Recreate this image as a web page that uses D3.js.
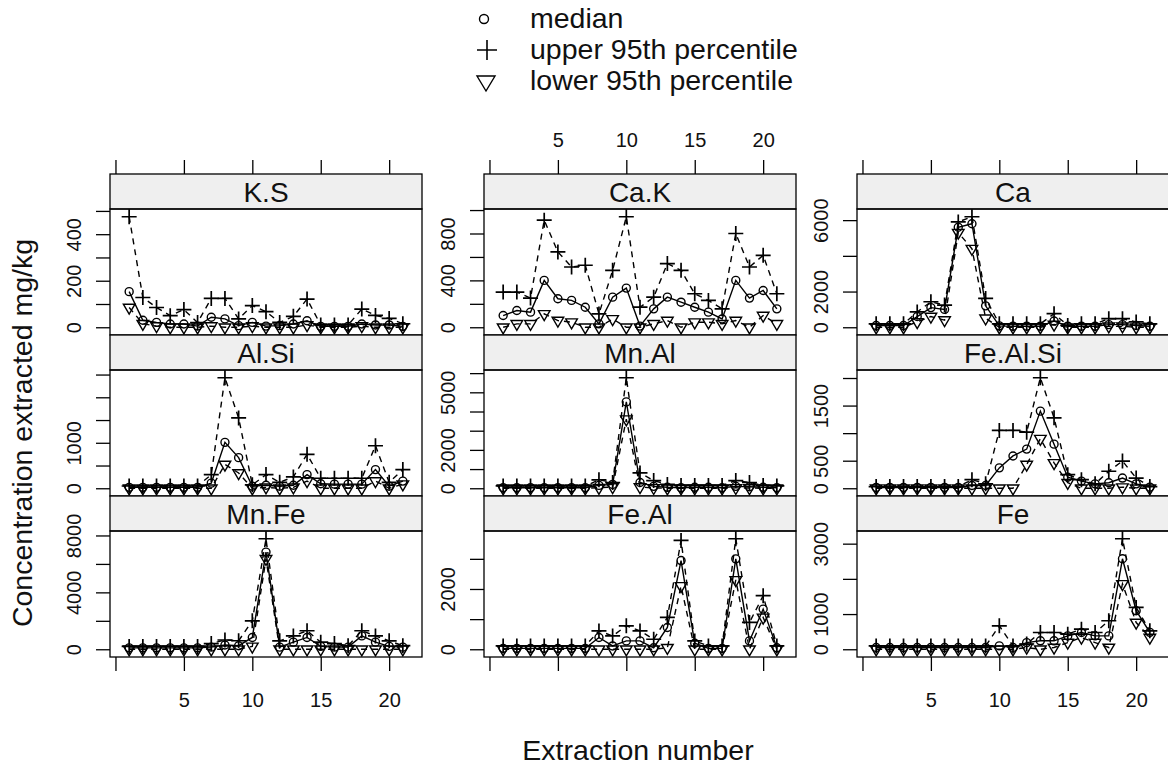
<!DOCTYPE html>
<html>
<head>
<meta charset="utf-8">
<script src="https://cdn.jsdelivr.net/npm/d3@7"></script>
<style>
  body { margin: 0; background: #fff; }
  svg { display: block; font-family: "Liberation Sans", Arial, sans-serif; }
</style>
</head>
<body>
<svg id="chart" width="1168" height="765"></svg>
<script>
// extraction steps on the x axis
const extraction = [1, 2, 3, 4, 5, 6, 7, 8, 9, 10, 11, 12, 13, 14, 15, 16, 17, 18, 19, 20, 21];
const xTicks = [0, 5, 10, 15, 20];

const panelNames = ["K.S", "Ca.K", "Ca", "Al.Si", "Mn.Al", "Fe.Al.Si", "Mn.Fe", "Fe.Al", "Fe"];

// values per panel (mg/kg)
const upperKS  = [475, 128, 85, 50, 76, 20, 124, 124, 36, 93, 67, 21, 47, 121, 10, 10, 10, 78, 51, 38, 15];
const medianKS = [153, 30, 21, 14, 14, 5, 43, 36, 7, 21, 5, 7, 14, 28, 4, 4, 4, 14, 10, 10, 4];
const lowerKS  = [85, 15, 5, 0, 0, 0, 5, 0, 0, 5, 0, 0, 0, 10, 0, 0, 0, 5, 0, 0, 0];

const upperCaK  = [300, 300, 249, 914, 643, 514, 529, 114, 486, 943, 171, 257, 543, 486, 286, 229, 157, 800, 514, 614, 286];
const medianCaK = [100, 143, 129, 400, 243, 229, 171, 29, 257, 334, 10, 157, 257, 214, 171, 129, 71, 400, 249, 314, 157];
const lowerCaK  = [0, 29, 29, 114, 57, 43, 0, 0, 71, 0, 0, 29, 57, 0, 43, 43, 29, 57, 0, 100, 29];

const upperCa  = [190, 190, 190, 857, 1429, 1240, 5900, 6190, 1617, 190, 190, 190, 190, 762, 100, 190, 190, 480, 480, 300, 190];
const medianCa = [100, 100, 100, 600, 1100, 1000, 5600, 5800, 1200, 80, 60, 60, 60, 350, 60, 60, 60, 150, 150, 100, 60];
const lowerCa  = [0, 0, 0, 300, 600, 400, 5300, 4400, 500, 0, 0, 0, 0, 150, 0, 0, 0, 50, 50, 0, 0];

const upperAlSi  = [50, 50, 50, 50, 50, 50, 300, 2430, 1547, 75, 300, 130, 250, 747, 220, 220, 220, 220, 935, 130, 410];
const medianAlSi = [20, 20, 20, 20, 20, 20, 112, 1009, 673, 45, 67, 45, 67, 300, 100, 90, 90, 90, 410, 45, 157];
const lowerAlSi  = [0, 0, 0, 0, 0, 0, 0, 523, 336, 0, 20, 0, 20, 157, 0, 0, 0, 0, 157, 0, 90];

const upperMnAl  = [120, 120, 120, 120, 120, 120, 120, 440, 300, 5760, 800, 400, 200, 150, 150, 150, 150, 400, 300, 150, 120];
const medianMnAl = [30, 30, 30, 30, 30, 30, 30, 150, 200, 4500, 300, 100, 50, 30, 50, 50, 30, 100, 80, 50, 30];
const lowerMnAl  = [0, 0, 0, 0, 0, 0, 0, 30, 60, 3600, 60, 20, 0, 0, 0, 0, 0, 20, 10, 0, 0];

const upperFeAlSi  = [30, 30, 30, 30, 30, 30, 30, 155, 80, 1050, 1050, 1018, 2005, 1278, 246, 155, 80, 309, 494, 185, 30];
const medianFeAlSi = [15, 15, 15, 15, 15, 15, 15, 50, 50, 370, 586, 710, 1400, 800, 200, 130, 80, 100, 185, 80, 20];
const lowerFeAlSi  = [0, 0, 0, 0, 0, 0, 0, 0, 0, 0, 0, 430, 900, 460, 100, 0, 0, 0, 20, 0, 0];

const upperMnFe  = [200, 200, 200, 200, 200, 200, 400, 650, 600, 2000, 7770, 590, 940, 1300, 500, 400, 250, 1300, 940, 590, 250];
const medianMnFe = [100, 100, 100, 100, 100, 100, 150, 300, 250, 830, 6830, 150, 500, 830, 200, 150, 150, 940, 500, 200, 150];
const lowerMnFe  = [0, 0, 0, 0, 0, 0, 0, 0, 0, 200, 6360, 0, 0, 0, 0, 0, 0, 0, 0, 0, 0];

const upperFeAl  = [110, 110, 110, 110, 110, 110, 110, 610, 443, 777, 610, 333, 1057, 3610, 277, 110, 110, 3667, 890, 1777, 110];
const medianFeAl = [30, 30, 30, 30, 30, 30, 30, 390, 110, 277, 277, 50, 723, 2943, 200, 30, 30, 3000, 277, 1333, 50];
const lowerFeAl  = [0, 0, 0, 0, 0, 0, 0, 0, 0, 0, 0, 0, 50, 2100, 0, 0, 0, 2300, 0, 1057, 0];

const upperFe  = [95, 95, 95, 95, 95, 95, 95, 95, 95, 667, 95, 150, 476, 476, 430, 571, 476, 810, 3140, 1190, 523];
const medianFe = [50, 50, 50, 50, 50, 50, 50, 50, 50, 95, 50, 190, 240, 240, 380, 476, 380, 380, 2570, 1095, 480];
const lowerFe  = [0, 0, 0, 0, 0, 0, 0, 0, 0, 0, 0, 50, 0, 50, 190, 333, 190, 50, 1857, 760, 333];

// y ticks and which of them carry a label (the rest were dropped for overlap)
const yTicksKS = [0, 100, 200, 300, 400, 500],             yLabelsKS = [0, 200, 400];
const yTicksCaK = [0, 200, 400, 600, 800, 1000],           yLabelsCaK = [0, 400, 800];
const yTicksCa = [0, 2000, 4000, 6000],                    yLabelsCa = [0, 2000, 6000];
const yTicksAlSi = [0, 500, 1000, 1500, 2000, 2500],       yLabelsAlSi = [0, 1000];
const yTicksMnAl = [0, 1000, 2000, 3000, 4000, 5000, 6000], yLabelsMnAl = [0, 2000, 5000];
const yTicksFeAlSi = [0, 500, 1000, 1500, 2000],           yLabelsFeAlSi = [0, 500, 1500];
const yTicksMnFe = [0, 2000, 4000, 6000, 8000],            yLabelsMnFe = [0, 4000, 8000];
const yTicksFeAl = [0, 1000, 2000, 3000],                  yLabelsFeAl = [0, 2000];
const yTicksFe = [0, 1000, 2000, 3000],                    yLabelsFe = [0, 1000, 3000];

const panelData = [
  { median: medianKS, upper: upperKS, lower: lowerKS, ticks: yTicksKS, labels: yLabelsKS },
  { median: medianCaK, upper: upperCaK, lower: lowerCaK, ticks: yTicksCaK, labels: yLabelsCaK },
  { median: medianCa, upper: upperCa, lower: lowerCa, ticks: yTicksCa, labels: yLabelsCa },
  { median: medianAlSi, upper: upperAlSi, lower: lowerAlSi, ticks: yTicksAlSi, labels: yLabelsAlSi },
  { median: medianMnAl, upper: upperMnAl, lower: lowerMnAl, ticks: yTicksMnAl, labels: yLabelsMnAl },
  { median: medianFeAlSi, upper: upperFeAlSi, lower: lowerFeAlSi, ticks: yTicksFeAlSi, labels: yLabelsFeAlSi },
  { median: medianMnFe, upper: upperMnFe, lower: lowerMnFe, ticks: yTicksMnFe, labels: yLabelsMnFe },
  { median: medianFeAl, upper: upperFeAl, lower: lowerFeAl, ticks: yTicksFeAl, labels: yLabelsFeAl },
  { median: medianFe, upper: upperFe, lower: lowerFe, ticks: yTicksFe, labels: yLabelsFe }
];

// layout
var svg = d3.select("#chart");
var colLeft = [110, 484, 857], panelW = 312;
var rowTop = [174, 335, 496], rowH = 161, stripH = 35;
var tickLen = 14;
var ink = "#111";

svg.append("rect").attr("width", 1168).attr("height", 765).attr("fill", "#fff");

function drawSeries(g, x, y, values, kind) {
  var pts = extraction.map((e, i) => [x(e), y(values[i])]);
  g.append("path")
    .attr("d", d3.line()(pts))
    .attr("fill", "none")
    .attr("stroke", "#000")
    .attr("stroke-width", 1.4)
    .attr("stroke-dasharray", kind === "median" ? null : "6,5");

  var marks = g.append("g");
  pts.forEach(function (p) {
    if (kind === "median") {
      marks.append("circle").attr("cx", p[0]).attr("cy", p[1]).attr("r", 4)
        .attr("fill", "none").attr("stroke", "#000").attr("stroke-width", 1.4);
    } else if (kind === "upper") {
      marks.append("path")
        .attr("d", `M${p[0] - 7.5},${p[1]}H${p[0] + 7.5}M${p[0]},${p[1] - 7.5}V${p[1] + 7.5}`)
        .attr("stroke", "#000").attr("stroke-width", 1.7);
    } else {
      marks.append("path")
        .attr("d", `M${p[0] - 5.8},${p[1] - 3.3}L${p[0] + 5.8},${p[1] - 3.3}L${p[0]},${p[1] + 6.6}Z`)
        .attr("fill", "none").attr("stroke", "#000").attr("stroke-width", 1.4);
    }
  });
}

panelNames.forEach(function (name, k) {
  var row = Math.floor(k / 3), col = k % 3;
  var d = panelData[k];
  var left = colLeft[col];
  var sTop = rowTop[row];
  var pTop = sTop + stripH, pBot = sTop + rowH;

  var x = d3.scaleLinear().domain([-0.4, 22.4]).range([left, left + panelW]);
  var all = [].concat(d.median, d.upper, d.lower);
  var maxV = d3.max(all), minV = d3.min(all);
  var pad = (maxV - minV) * 0.07;
  var y = d3.scaleLinear().domain([minV - pad, maxV + pad]).range([pBot, pTop]);

  // strip
  svg.append("rect")
    .attr("x", left).attr("y", sTop).attr("width", panelW).attr("height", stripH)
    .attr("fill", "#efefef").attr("stroke", "#000").attr("stroke-width", 1.3);
  svg.append("text")
    .attr("x", left + panelW / 2).attr("y", sTop + 28)
    .attr("text-anchor", "middle").attr("font-size", 28).attr("fill", ink)
    .text(name);

  // clip + series
  var clipId = "clip" + k;
  svg.append("clipPath").attr("id", clipId)
    .append("rect").attr("x", left).attr("y", pTop).attr("width", panelW).attr("height", pBot - pTop);
  var g = svg.append("g").attr("clip-path", `url(#${clipId})`);
  drawSeries(g, x, y, d.upper, "upper");
  drawSeries(g, x, y, d.median, "median");
  drawSeries(g, x, y, d.lower, "lower");

  svg.append("rect")
    .attr("x", left).attr("y", pTop).attr("width", panelW).attr("height", pBot - pTop)
    .attr("fill", "none").attr("stroke", "#000").attr("stroke-width", 1.3);

  // left y axis, labels rotated
  var yAxis = svg.append("g")
    .attr("transform", `translate(${left},0)`)
    .call(d3.axisLeft(y).tickValues(d.ticks).tickSize(tickLen)
      .tickFormat(v => d.labels.includes(v) ? v : ""));
  yAxis.select(".domain").remove();
  yAxis.selectAll("line").attr("stroke", "#000").attr("stroke-width", 1.3);
  yAxis.selectAll("text")
    .attr("transform", "rotate(-90)")
    .attr("x", 0).attr("y", -29).attr("dy", 0)
    .attr("text-anchor", "middle")
    .attr("font-size", 20).attr("font-family", "Liberation Sans, Arial, sans-serif")
    .attr("fill", ink);

  // top axis on first row, bottom axis on last row
  if (row === 0) {
    var top = svg.append("g")
      .attr("transform", `translate(0,${sTop})`)
      .call(d3.axisTop(x).tickValues(xTicks).tickSize(tickLen)
        .tickFormat(v => (col === 1 && v !== 0) ? v : ""));
    top.select(".domain").remove();
    top.selectAll("line").attr("stroke", "#000").attr("stroke-width", 1.3);
    top.selectAll("text").attr("y", -27).attr("dy", 0)
      .attr("font-size", 20).attr("font-family", "Liberation Sans, Arial, sans-serif").attr("fill", ink);
  }
  if (row === 2) {
    var bottom = svg.append("g")
      .attr("transform", `translate(0,${pBot})`)
      .call(d3.axisBottom(x).tickValues(xTicks).tickSize(tickLen)
        .tickFormat(v => (col !== 1 && v !== 0) ? v : ""));
    bottom.select(".domain").remove();
    bottom.selectAll("line").attr("stroke", "#000").attr("stroke-width", 1.3);
    bottom.selectAll("text").attr("y", 50).attr("dy", 0)
      .attr("font-size", 20).attr("font-family", "Liberation Sans, Arial, sans-serif").attr("fill", ink);
  }
});

// axis titles
svg.append("text")
  .attr("x", 638).attr("y", 760)
  .attr("text-anchor", "middle").attr("font-size", 28.5).attr("fill", ink)
  .text("Extraction number");
svg.append("text")
  .attr("transform", "translate(32,433) rotate(-90)")
  .attr("text-anchor", "middle").attr("font-size", 28.5).attr("fill", ink)
  .text("Concentration extracted mg/kg");

// legend
const legendLabels = ["median", "upper 95th percentile", "lower 95th percentile"];
var legend = svg.append("g");
legendLabels.forEach(function (lab, i) {
  var cy = 18 + i * 31;
  if (i === 0) {
    legend.append("circle").attr("cx", 484).attr("cy", cy + 1).attr("r", 4.5)
      .attr("fill", "none").attr("stroke", "#000").attr("stroke-width", 1.4);
  } else if (i === 1) {
    legend.append("path").attr("d", `M477,${cy + 1}H497M487,${cy - 9}V${cy + 11}`)
      .attr("stroke", "#000").attr("stroke-width", 1.6);
  } else {
    legend.append("path").attr("d", `M477,${cy - 4}L495,${cy - 4}L486,${cy + 11}Z`)
      .attr("fill", "none").attr("stroke", "#000").attr("stroke-width", 1.4);
  }
  legend.append("text")
    .attr("x", 530).attr("y", cy + 10)
    .attr("font-size", 28.5).attr("fill", ink)
    .text(lab);
});
</script>
</body>
</html>
